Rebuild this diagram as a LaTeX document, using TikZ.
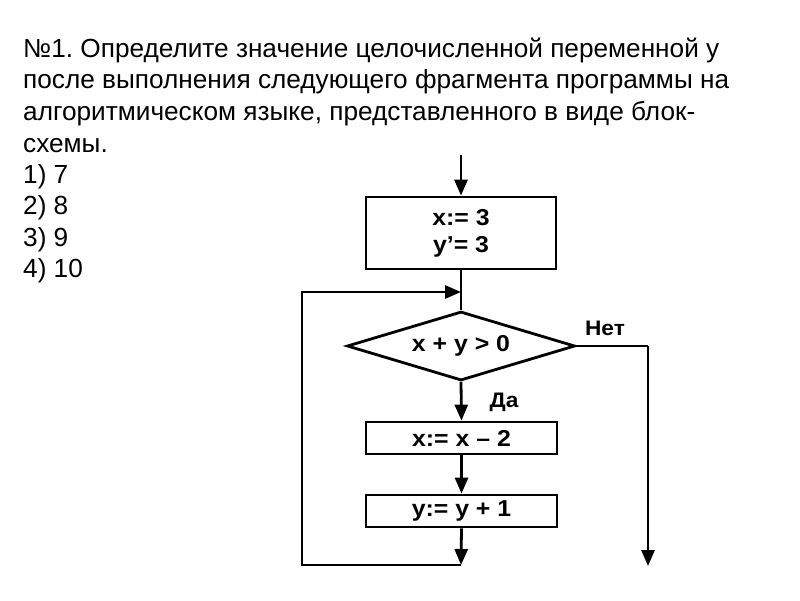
\documentclass[tikz,border=0pt]{standalone}
\usepackage{fontspec}
\setmainfont{Liberation Sans}
\frenchspacing
\usetikzlibrary{shapes.geometric,arrows.meta}
\newcommand{\flowtxt}[1]{\scalebox{1.08}[1]{#1}}
\tikzset{
  x=1pt,y=-1pt,
  title/.style={anchor=base west,inner sep=0pt,font=\fontsize{26.2}{30}\selectfont},
  blk/.style={draw,line width=2.8pt,inner sep=0pt,font=\fontsize{23}{27}\bfseries\selectfont,align=center},
  cond/.style={draw,line width=2.8pt,shape=diamond,aspect=3.3,inner sep=0pt,minimum width=228,minimum height=69,font=\fontsize{23}{24}\bfseries\selectfont},
  lbl/.style={inner sep=0pt,font=\fontsize{21}{22}\bfseries\selectfont},
  flow/.style={line width=2.8pt},
  arr/.style={line width=2.8pt,-{Triangle[width=13pt,length=16pt]}}
}
\begin{document}
\begin{tikzpicture}
\useasboundingbox (0,0) rectangle (800,600);
\fill[white] (0,0) rectangle (800,600);
\node[title] (t1) at (23,57) {№1. Определите значение целочисленной переменной у};
\node[title] (t2) at (23,88.5) {после выполнения следующего фрагмента программы на};
\node[title] (t3) at (23,120) {алгоритмическом языке, представленного в виде блок-};
\node[title] (t4) at (23,152) {схемы.};
\node[title] (a1) at (23,183) {1) 7};
\node[title] (a2) at (23,214.5) {2) 8};
\node[title] (a3) at (23,246) {3) 9};
\node[title] (a4) at (23,277.5) {4) 10};

\node[blk,minimum width=190,minimum height=72] (b1) at (461,233) {\raisebox{-3pt}{\flowtxt{x:= 3}}\\\raisebox{-3pt}{\flowtxt{y{\char39}= 3}}};
\node[cond] (d) at (461,346) {\flowtxt{x + y > 0}};
\node[blk,minimum width=191,minimum height=32] (b2) at (461.5,438) {\flowtxt{x:= x – 2}};
\node[blk,minimum width=191,minimum height=32] (b3) at (461.5,511) {\flowtxt{y:= y + 1}};
\node[lbl] (no) at (605,328) {\flowtxt{Нет}};
\node[lbl] (yes) at (504,402) {\flowtxt{Да}};

\coordinate (start) at (461,155);
\coordinate (merge) at (461,292);
\coordinate (loopbot) at (461,565);
\coordinate (lb) at (302,565);
\coordinate (lt) at (302,292);
\coordinate (re) at (648,346);
\coordinate (rb) at (648,566);

\draw[arr] (start) -- (b1.north);
\draw[flow] (b1.south) -- (d.north);
\draw[arr] (d.south) -- (b2.north);
\draw[arr] (b2.south) -- (b3.north);
\draw[arr] (b3.south) -- (loopbot);
\draw[arr] (loopbot) -- (lb) -- (lt) -- (merge);
\draw[flow] (d.east) -- (re);
\draw[arr] (re) -- (rb);
\end{tikzpicture}
\end{document}
